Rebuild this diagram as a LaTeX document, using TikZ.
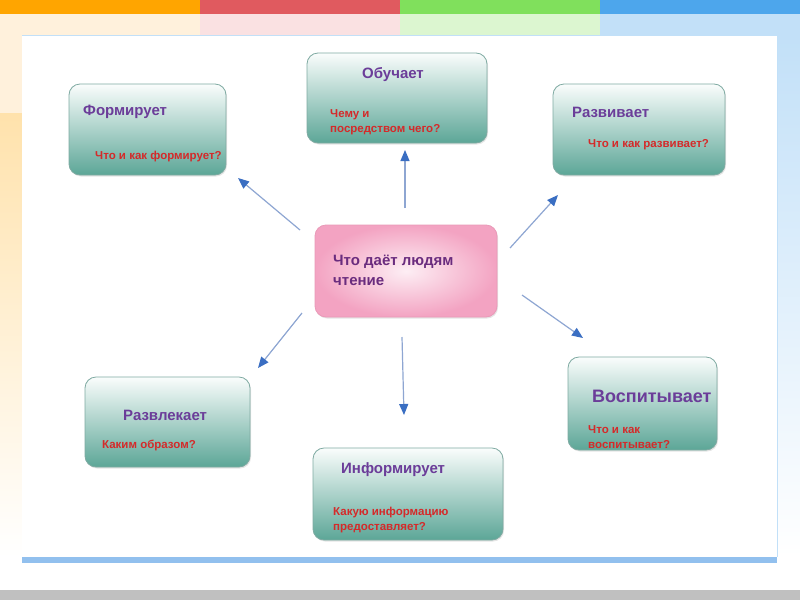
\documentclass[tikz,border=0pt]{standalone}
\usepackage{fontspec}
\setmainfont{Liberation Sans}
\usetikzlibrary{arrows.meta,shadows}

\definecolor{bandeOr}{HTML}{FFA500}
\definecolor{bandeRo}{HTML}{E05A5F}
\definecolor{bandeVe}{HTML}{80E05C}
\definecolor{bandeBl}{HTML}{4DA6EC}
\definecolor{teinteOr}{HTML}{FFF1DC}
\definecolor{teinteOrF}{HTML}{FFE2AC}
\definecolor{teinteRo}{HTML}{FAE1E2}
\definecolor{teinteVe}{HTML}{DCF6D0}
\definecolor{teinteBl}{HTML}{C2E0F8}
\definecolor{barreBl}{HTML}{92C0EE}
\definecolor{gris}{HTML}{C0C0C0}
\definecolor{bordVert}{HTML}{7FAAA2}
\definecolor{hautVert}{HTML}{FAFDFC}
\definecolor{basVert}{HTML}{5CA697}
\definecolor{bordRose}{HTML}{E99AB8}
\definecolor{centreRose}{HTML}{FDEEF4}
\definecolor{bordureRose}{HTML}{F3A3C2}
\definecolor{violet}{HTML}{6B3D99}
\definecolor{violetF}{HTML}{6A2C7E}
\definecolor{rouge}{HTML}{D42A2A}
\definecolor{ligneBl}{HTML}{8EA6D2}
\definecolor{pointeBl}{HTML}{3A6EC2}

\tikzset{
  boite/.style={draw=bordVert, line width=0.8pt, rounded corners=11pt,
    top color=hautVert, bottom color=basVert,
    drop shadow={opacity=0.2, shadow xshift=1pt, shadow yshift=-1.5pt}},
  boiteRose/.style={draw=bordRose, line width=0.8pt, rounded corners=11pt,
    shading=radial, inner color=centreRose, outer color=bordureRose,
    drop shadow={opacity=0.2, shadow xshift=1pt, shadow yshift=-1.5pt}},
  titre/.style={inner sep=0pt, anchor=west, align=left, text=violet,
    font=\fontsize{15}{20}\selectfont\bfseries},
  question/.style={inner sep=0pt, anchor=west, align=left, text=rouge,
    font=\fontsize{11.5}{15}\selectfont\bfseries},
  fleche/.style={draw=ligneBl, line width=1.2pt,
    -{Triangle[length=11pt,width=9pt,color=pointeBl]}}
}

\begin{document}
\begin{tikzpicture}[x=1pt, y=-1pt]
  %Fond de la diapositive
  \useasboundingbox (0,0) rectangle (800,600);
  \fill[white] (0,0) rectangle (800,600);
  \fill[bandeOr] (0,0) rectangle (200,14);
  \fill[bandeRo] (200,0) rectangle (400,14);
  \fill[bandeVe] (400,0) rectangle (600,14);
  \fill[bandeBl] (600,0) rectangle (800,14);
  \fill[teinteOr] (0,14) rectangle (200,35);
  \fill[teinteRo] (200,14) rectangle (400,35);
  \fill[teinteVe] (400,14) rectangle (600,35);
  \fill[teinteBl] (600,14) rectangle (800,35);
  \fill[teinteOr] (0,35) rectangle (22,113);
  \shade[top color=teinteOrF, bottom color=white] (0,113) rectangle (22,557);
  \shade[top color=teinteBl, bottom color=white] (777,35) rectangle (800,557);
  \fill[white] (22,35) rectangle (777,557);
  \draw[teinteBl, line width=0.8pt] (22,35) -- (777,35) -- (777,557);
  \fill[barreBl] (22,557) rectangle (777,563);
  \fill[gris] (0,590) rectangle (800,600);

  %Boîtes du diagramme
  \node[boite, minimum width=157pt, minimum height=91pt] (form) at (147.5,129.5) {};
  \node[boite, minimum width=180pt, minimum height=90pt] (obuch) at (397,98) {};
  \node[boite, minimum width=172pt, minimum height=91pt] (razv) at (639,129.5) {};
  \node[boiteRose, minimum width=182pt, minimum height=92pt] (centre) at (406,271) {};
  \node[boite, minimum width=165pt, minimum height=90pt] (razvl) at (167.5,422) {};
  \node[boite, minimum width=149pt, minimum height=93pt] (vosp) at (642.5,403.5) {};
  \node[boite, minimum width=190pt, minimum height=92pt] (inform) at (408,494) {};

  %Textes des boîtes
  \node[titre] (formT) at (83,112) {Формирует};
  \node[question] (formQ) at (95,157) {Что и как формирует?};
  \node[titre] (obuchT) at (362,75) {Обучает};
  \node[question] (obuchQ) at (330,122.5) {Чему и\\посредством чего?};
  \node[titre] (razvT) at (572,112) {Развивает};
  \node[question] (razvQ) at (588,145) {Что и как развивает?};
  \node[titre, text=violetF] (centreT) at (333,270.5) {Что даёт людям\\чтение};
  \node[titre] (razvlT) at (123,415) {Развлекает};
  \node[question] (razvlQ) at (102,445) {Каким образом?};
  \node[titre, font=\fontsize{18}{21}\selectfont\bfseries] (vospT) at (592,396) {Воспитывает};
  \node[question] (vospQ) at (588,437) {Что и как\\воспитывает?};
  \node[titre] (informT) at (341,470) {Информирует};
  \node[question] (informQ) at (333,520) {Какую информацию\\предоставляет?};

  %Flèches depuis le centre
  \coordinate (dF) at (300,230); \coordinate (aF) at (238,178);
  \coordinate (dO) at (405,208); \coordinate (aO) at (405,150);
  \coordinate (dR) at (510,248); \coordinate (aR) at (558,195);
  \coordinate (dV) at (522,295); \coordinate (aV) at (583,338);
  \coordinate (dI) at (402,337); \coordinate (aI) at (404,415);
  \coordinate (dL) at (302,313); \coordinate (aL) at (258,368);
  \draw[fleche] (dF) -- (aF);
  \draw[fleche] (dO) -- (aO);
  \draw[fleche] (dR) -- (aR);
  \draw[fleche] (dV) -- (aV);
  \draw[fleche] (dI) -- (aI);
  \draw[fleche] (dL) -- (aL);
\end{tikzpicture}
\end{document}
